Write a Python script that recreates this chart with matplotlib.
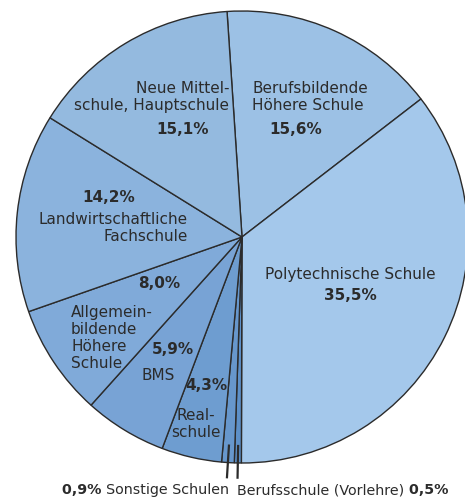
import numpy as np
import matplotlib
matplotlib.use("Agg")
import matplotlib.pyplot as plt

# shares in percent, clockwise starting just left of 12 o'clock
schools = ["Berufsbildende Höhere Schule", "Polytechnische Schule", "Berufsschule (Vorlehre)",
           "Sonstige Schulen", "Realschule", "BMS", "Allgemeinbildende Höhere Schule",
           "Landwirtschaftliche Fachschule", "Neue Mittelschule, Hauptschule"]
shares = [15.6, 35.5, 0.5, 0.9, 4.3, 5.9, 8.0, 14.2, 15.1]
colors = ["#9cc1e5", "#a4c8eb", "#5d90c8", "#6797cc", "#6e9dd0", "#78a3d5",
          "#80aad9", "#8bb3dd", "#94badf"]

def pct(v):
    return f"{v:.1f}%".replace(".", ",")

W, H = 465, 499
cx, cy, r = 242, H - 237, 226

fig = plt.figure(figsize=(W / 100, H / 100), dpi=100)
ax = fig.add_axes([0, 0, 1, 1])

wedges, _ = ax.pie(shares, colors=colors, startangle=93.8, counterclock=False,
                   center=(cx, cy), radius=r, frame=True,
                   wedgeprops=dict(edgecolor="#2b2b2b", linewidth=1.0))
ax.set_xlim(0, W)
ax.set_ylim(0, H)
ax.axis("off")

txt = dict(fontsize=11, color="#2b2b2b", family="DejaVu Sans", linespacing=1.15)
bold = dict(txt, fontweight="bold", fontsize=11)

def T(x, y, s, **kw):
    return ax.text(x, H - y, s, **kw)

T(229, 97, "Neue Mittel-\nschule, Hauptschule", ha="right", va="center", **txt)
T(183, 129, pct(shares[8]), ha="center", va="center", **bold)
T(252, 97, "Berufsbildende\nHöhere Schule", ha="left", va="center", **txt)
T(296, 129, pct(shares[0]), ha="center", va="center", **bold)
T(109, 197, pct(shares[7]), ha="center", va="center", **bold)
T(188, 228, "Landwirtschaftliche\nFachschule", ha="right", va="center", **txt)
T(350, 275, "Polytechnische Schule", ha="center", va="center", **txt)
T(350, 296, pct(shares[1]), ha="center", va="center", **bold)
T(159, 284, pct(shares[6]), ha="center", va="center", **bold)
T(71, 338, "Allgemein-\nbildende\nHöhere\nSchule", ha="left", va="center", **txt)
T(173, 349, pct(shares[5]), ha="center", va="center", **bold)
T(158, 375, "BMS", ha="center", va="center", **txt)
T(206, 386, pct(shares[4]), ha="center", va="center", **bold)
T(196, 424, "Real-\nschule", ha="center", va="center", **txt)

# leader lines for the two tiny slices
for w in wedges[2:4]:
    mid = np.deg2rad((w.theta1 + w.theta2) / 2)
    x0 = cx + 0.92 * r * np.cos(mid)
    y0 = cy + 0.92 * r * np.sin(mid)
    x1 = cx + 1.07 * r * np.cos(mid)
    y1 = cy + 1.07 * r * np.sin(mid)
    ax.plot([x0, x1], [y0, y1], color="#2b2b2b", lw=1.6, solid_capstyle="butt")

small = dict(txt, fontsize=10.3)
small_b = dict(bold, fontsize=10.3)
t1 = T(229, 490, schools[3], ha="right", va="center", **small)
ax.annotate(pct(shares[3]) + " ", xy=(0, 0.5), xycoords=t1, ha="right", va="center", **small_b)
t2 = T(237, 490, schools[2], ha="left", va="center", **small)
ax.annotate(" " + pct(shares[2]), xy=(1, 0.5), xycoords=t2, ha="left", va="center", **small_b)

fig.savefig("out.png", dpi=100)
